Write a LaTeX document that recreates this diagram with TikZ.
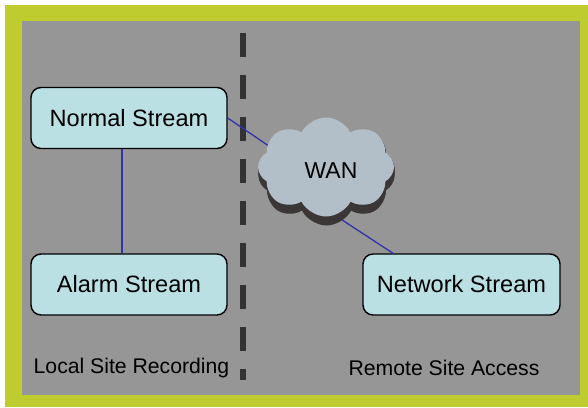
\documentclass[tikz,border=0pt]{standalone}
\usepackage{fontspec}
\setmainfont{Liberation Sans}
\usetikzlibrary{shapes.symbols}
\definecolor{frameGreen}{RGB}{191,204,47}
\definecolor{bgGray}{RGB}{150,150,150}
\definecolor{boxFill}{RGB}{186,224,228}
\definecolor{cloudFace}{RGB}{178,190,200}
\definecolor{cloudSide}{RGB}{60,55,55}
\definecolor{linkBlue}{RGB}{50,50,170}
\definecolor{dashDark}{RGB}{51,51,51}
\tikzset{
  streambox/.style={draw=black, line width=1.4pt, fill=boxFill, rounded corners=10pt,
    minimum width=196pt, minimum height=61pt, inner sep=0pt,
    font=\fontsize{23.6pt}{28pt}\selectfont},
  sitelabel/.style={inner sep=0pt, font=\fontsize{21.2pt}{25pt}\selectfont},
  link/.style={draw=linkBlue, line width=1.3pt},
  wancloud/.style={cloud, cloud puffs=8, cloud puff arc=125, minimum width=136pt,
    minimum height=99pt, inner sep=0pt},
}
\begin{document}
\begin{tikzpicture}[x=1pt,y=-1pt]
\useasboundingbox (0,0) rectangle (588,407);
\fill[white] (0,0) rectangle (588,407);
\fill[frameGreen] (5,5) rectangle (588,407);
\fill[bgGray] (22,21) rectangle (580,395);
% divider
\draw[dashDark, line width=6pt, dash pattern=on 24pt off 18pt] (242.5,33) -- (242.5,380);
% nodes
\node[streambox] (normal) at (129,118) {Normal Stream};
\node[streambox] (alarm) at (129,284.5) {Alarm Stream};
\node[streambox, minimum width=197pt] (network) at (461.5,284.5) {Network Stream};
\coordinate (vline) at (122,0);
\coordinate (wanW) at (285,157);
\coordinate (wanS) at (335,215.3);
\coordinate (netX) at (393,0);
% connectors
\draw[link] (normal.south -| vline) -- (alarm.north -| vline);
\draw[link] (normal.east) -- (wanW);
\draw[link] (wanS) -- (network.north -| netX);
% cloud with extrusion
\foreach \i in {1,...,9} {
  \node[wancloud, fill=cloudSide] at (326.5,167+\i) {};
}
\node[wancloud, fill=cloudFace] (wan) at (326,167) {};
\node[inner sep=0pt, font=\fontsize{23pt}{27pt}\selectfont] (wanlabel) at (331,171) {WAN};
% labels
\node[sitelabel] (local) at (131.5,368) {Local Site Recording};
\node[sitelabel] (remote) at (444,368) {Remote Site Access};
\end{tikzpicture}
\end{document}
